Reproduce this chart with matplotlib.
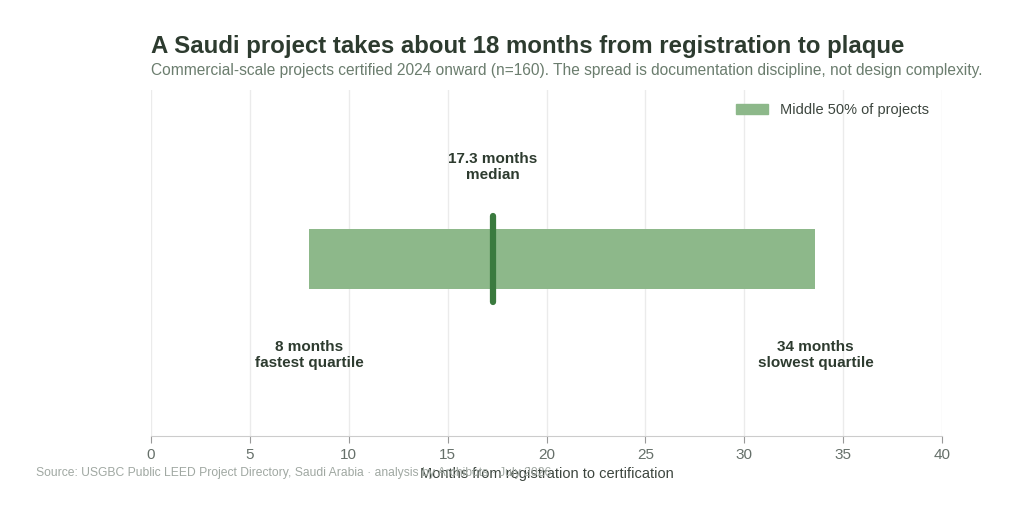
import matplotlib
matplotlib.use("Agg")
import matplotlib.pyplot as plt
from matplotlib.patches import Patch

plt.rcParams['font.family'] = ['Liberation Sans', 'DejaVu Sans']

q1 = 8.0
median = 17.3
q3 = 33.6
x_ticks = [0, 5, 10, 15, 20, 25, 30, 35, 40]
labels = {"median": "17.3 months\nmedian", "q1": "8 months\nfastest quartile", "q3": "34 months\nslowest quartile"}

dark = "#2d3b2f"
green = "#8db88a"
dgreen = "#3a7a3e"

fig = plt.figure(figsize=(10.24, 5.16), dpi=100)
ax = fig.add_axes([151/1024, 1-436/516, (942-151)/1024, (436-90)/516])
ax.set_xlim(0, 40)
ax.set_ylim(0, 1)
yc = 1 - (259-90)/346
h = 60/346
ax.barh([yc], [q3-q1], left=[q1], height=h, color=green, zorder=2)
ax.plot([median, median], [yc-43/346, yc+43/346], color=dgreen, lw=4.5, solid_capstyle='round', zorder=3)

ax.text(median, 1-(167-90)/346, labels["median"], ha='center', va='center', fontsize=11, fontweight='bold', color=dark)
ax.text(q1, 1-(355-90)/346, labels["q1"], ha='center', va='center', fontsize=11, fontweight='bold', color=dark)
ax.text(q3, 1-(355-90)/346, labels["q3"], ha='center', va='center', fontsize=11, fontweight='bold', color=dark)

ax.set_xticks(x_ticks)
ax.set_xticklabels([str(t) for t in x_ticks], fontsize=11, color="#66706a")
ax.set_yticks([])
ax.grid(axis='x', color="#ebebeb", lw=1, zorder=0)
for s in ['top', 'right', 'left']:
    ax.spines[s].set_visible(False)
ax.spines['bottom'].set_color("#cccccc")
ax.tick_params(axis='x', color="#999999", length=5)
ax.set_xlabel("Months from registration to certification", fontsize=10.5, color="#3d463f", labelpad=4)

ax.legend(handles=[Patch(color=green, label="Middle 50% of projects")], loc='upper right',
          bbox_to_anchor=(1.0, 1.0), frameon=False, fontsize=10.5, handlelength=2.2, labelcolor="#3d463f")

fig.text(151/1024, 1-46/516, "A Saudi project takes about 18 months from registration to plaque",
         fontsize=17.3, fontweight='bold', color=dark, va='center')
fig.text(151/1024, 1-71/516, "Commercial-scale projects certified 2024 onward (n=160). The spread is documentation discipline, not design complexity.",
         fontsize=11.2, color="#6b7d6e", va='center')
fig.text(36/1024, 1-473/516, "Source: USGBC Public LEED Project Directory, Saudi Arabia · analysis by Archibots · July 2026",
         fontsize=8.7, color="#a0a8a2", va='center')

fig.savefig("out.png", dpi=100)
